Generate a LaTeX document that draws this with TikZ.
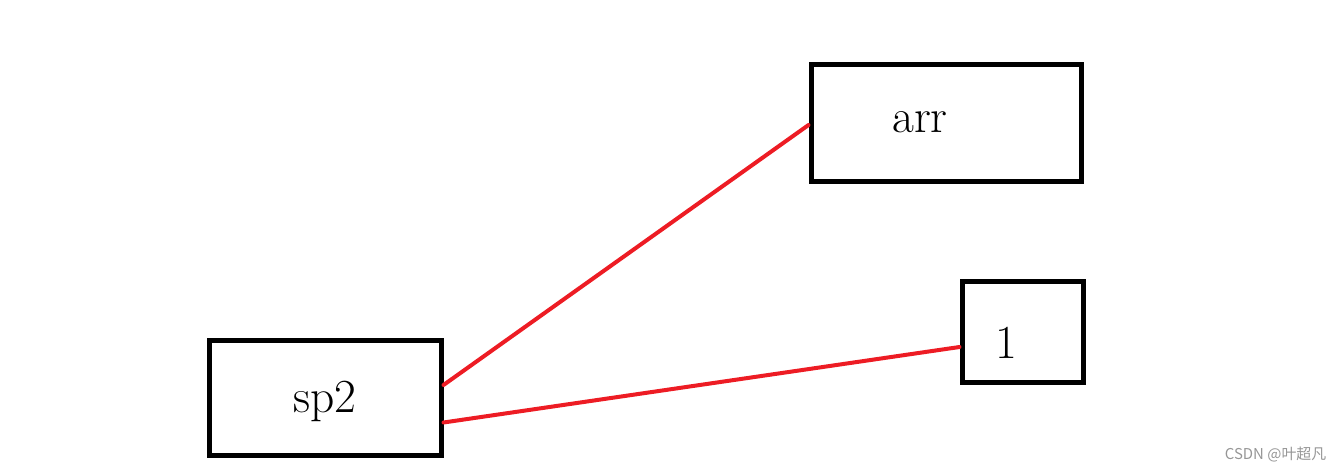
\documentclass[tikz,border=0pt]{standalone}
\usepackage{fontspec}
\usepackage{xcolor}
\usepackage{tikz}
\usetikzlibrary{positioning}
\newfontfamily\cjk{Noto Sans CJK SC}
\definecolor{paintred}{RGB}{237,28,36}
\definecolor{markgray}{RGB}{150,150,150}
\tikzset{
  box/.style={draw=black,line width=0.1cm,minimum width=#1},
  boxlabel/.style={font=\fontsize{27}{31}\selectfont},
  wire/.style={draw=paintred,line width=0.08cm,line cap=round}
}

\begin{document}
\begin{tikzpicture}
\useasboundingbox (0,0) rectangle (26.8,-9.44);
\node[box=5.4cm,minimum height=2.34cm] (arr) at (18.92,-2.45) {};
\node[box=2.42cm,minimum height=2.02cm] (one) at (20.45,-6.63) {};
\node[box=4.64cm,minimum height=2.3cm] (sp2) at (6.5,-7.95) {};
\node[boxlabel] (arrtext) at ([xshift=-0.52cm]arr.center) {arr};
\node[boxlabel] (onetext) at ([xshift=-0.32cm,yshift=-0.22cm]one.center) {1};
\node[boxlabel] (sp2text) at ([yshift=-0.08cm]sp2.center) {sp2};
\path[wire] ([yshift=0.25cm]sp2.east) -- ([yshift=-0.05cm]arr.west)
            ([yshift=-0.5cm]sp2.east) -- ([yshift=-0.31cm]one.west);
\node[anchor=east,text=markgray,font=\cjk\fontsize{8.5}{10}\selectfont] (mark) at (26.65,-9.1) {CSDN @叶超凡};
\end{tikzpicture}
\end{document}
